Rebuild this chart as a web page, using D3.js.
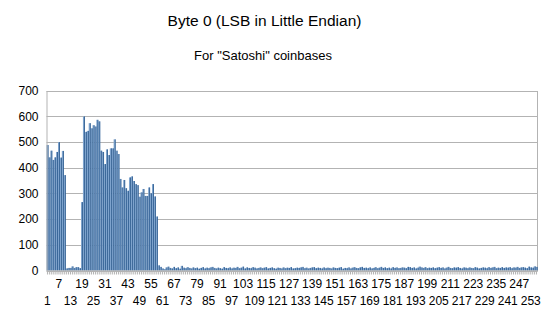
<!DOCTYPE html>
<html>
<head>
<meta charset="utf-8">
<script src="https://cdn.jsdelivr.net/npm/d3@7/dist/d3.min.js"></script>
<style>
  html, body { margin: 0; padding: 0; background: #fff; }
  svg { display: block; font-family: "Liberation Sans", Arial, sans-serif; }
</style>
</head>
<body>
<svg id="chart" width="547" height="327"></svg>
<script>
// Byte values 1..256 and how often each appears as byte 0 of the coinbase nonce
const categories = d3.range(1, 257);
const counts = [
  488, 440, 466, 430, 440, 461, 499, 439, 465, 371,
  8, 10, 10, 16, 10, 13, 13, 9,
  266, 599, 539, 543, 573, 553, 565, 560, 586, 580,
  466, 461, 414, 471, 449, 475, 475, 510, 466, 453,
  356, 323, 352, 320, 310, 362, 366, 348, 336, 332,
  287, 304, 317, 290, 290, 323, 300, 336, 288, 210,
  20, 14, 8, 5, 12, 15, 10, 8, 14, 9, 12, 7, 18, 11, 9, 13, 10, 8,
  12, 9, 11, 7, 10, 13, 8, 11, 9, 12, 14, 10, 8, 11, 9, 7, 13, 10,
  9, 12, 8, 11, 10, 14, 9, 11, 15, 8, 12, 10, 9, 13, 11, 8, 10, 12,
  9, 11, 13, 8, 10, 12, 9, 7, 11, 10, 8, 12, 9, 11, 10, 13, 8, 9,
  11, 10, 12, 14, 9, 11, 8, 10, 12, 13, 9, 11, 10, 8, 12, 9, 11, 10,
  8, 12, 10, 9, 11, 13, 7, 10, 9, 12, 8, 11, 13, 10, 9, 12, 14, 10,
  11, 9, 12, 8, 10, 13, 9, 11, 14, 10, 12, 9, 11, 8, 13, 10, 12, 9,
  10, 12, 11, 9, 14, 13, 10, 12, 8, 11, 15, 12, 10, 13, 9, 11, 10, 12,
  9, 11, 13, 10, 12, 8, 11, 14, 10, 9, 12, 11, 13, 10, 8, 12, 11, 9,
  12, 10, 9, 13, 11, 8, 10, 12, 11, 9, 13, 10, 12, 14, 9, 11, 10, 13,
  10, 12, 11, 13, 9, 12, 11, 14, 10, 12, 13, 11, 9, 15, 12, 11, 16, 14
];
const yTicks = [0, 100, 200, 300, 400, 500, 600, 700];
const labelEvery = 6;

const title = "Byte 0 (LSB in Little Endian)";
const subtitle = "For \"Satoshi\" coinbases";

const data = categories.map((c, i) => ({ cat: c, value: counts[i] }));

const svg = d3.select("#chart");
const plot = { left: 46.5, right: 537.5, top: 90.5, bottom: 270.5 };

const x = d3.scaleBand()
  .domain(categories)
  .range([plot.left, plot.right])
  .paddingInner(0)
  .paddingOuter(0);

const y = d3.scaleLinear()
  .domain([0, 700])
  .range([plot.bottom, plot.top]);

// titles
svg.append("text")
  .attr("x", 264.5).attr("y", 26)
  .attr("text-anchor", "middle")
  .attr("font-size", 15.5)
  .attr("fill", "#000")
  .text(title);

svg.append("text")
  .attr("x", 263).attr("y", 60)
  .attr("text-anchor", "middle")
  .attr("font-size", 13)
  .attr("fill", "#000")
  .text(subtitle);

// horizontal grid
svg.append("g")
  .selectAll("line")
  .data(yTicks)
  .join("line")
  .attr("x1", plot.left).attr("x2", plot.right)
  .attr("y1", d => Math.round(y(d)) + 0.5)
  .attr("y2", d => Math.round(y(d)) + 0.5)
  .attr("stroke", "#b3b3b3")
  .attr("stroke-width", 1);

// right side of the plot frame
svg.append("line")
  .attr("x1", plot.right).attr("x2", plot.right)
  .attr("y1", y(700) + 0.5).attr("y2", y(0) + 0.5)
  .attr("stroke", "#b3b3b3");

// bars: light body with darker edge stripe
const bars = svg.append("g");
bars.selectAll("rect.body")
  .data(data)
  .join("rect")
  .attr("class", "body")
  .attr("x", d => x(d.cat))
  .attr("width", x.bandwidth())
  .attr("y", d => y(d.value))
  .attr("height", d => y(0) - y(d.value))
  .attr("fill", "#7ea3cd");

bars.selectAll("rect.edge")
  .data(data)
  .join("rect")
  .attr("class", "edge")
  .attr("x", d => x(d.cat) + x.bandwidth() - 0.7)
  .attr("width", 0.7)
  .attr("y", d => y(d.value))
  .attr("height", d => y(0) - y(d.value))
  .attr("fill", "#1f4f84");

// y axis
const yAxis = d3.axisLeft(y)
  .tickValues(yTicks)
  .tickSize(0)
  .tickPadding(8);
const gy = svg.append("g")
  .attr("transform", `translate(${plot.left},0)`)
  .call(yAxis);
gy.select(".domain").attr("stroke", "#b3b3b3");
gy.selectAll("text")
  .attr("font-size", 12)
  .attr("fill", "#000")
  .attr("font-family", "Liberation Sans, Arial, sans-serif");

// x axis: tick per category, labels every sixth in two staggered rows
const xAxis = d3.axisBottom(x)
  .tickSize(4)
  .tickSizeOuter(0)
  .tickFormat(d => ((d - 1) % labelEvery === 0) ? String(d) : "");
const gx = svg.append("g")
  .attr("transform", `translate(0,${plot.bottom})`)
  .call(xAxis);
gx.select(".domain").attr("stroke", "#b3b3b3");
gx.selectAll(".tick line").attr("stroke", "#b3b3b3");
gx.selectAll(".tick text")
  .attr("font-size", 12)
  .attr("fill", "#000")
  .attr("font-family", "Liberation Sans, Arial, sans-serif")
  .attr("y", d => (((d - 1) / labelEvery) % 2 === 0) ? 26 : 9)
  .attr("dy", "0.71em");
</script>
</body>
</html>
